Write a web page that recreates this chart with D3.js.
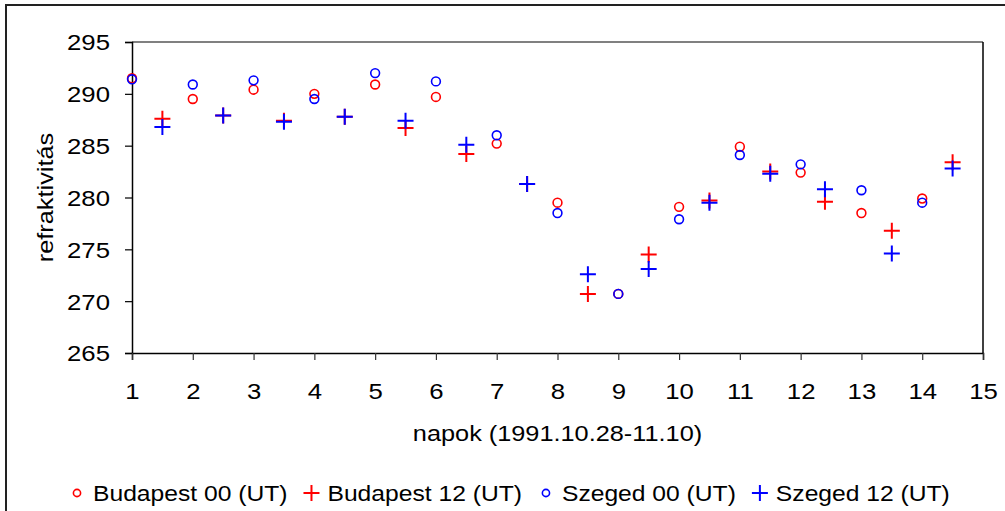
<!DOCTYPE html>
<html>
<head>
<meta charset="utf-8">
<script src="https://cdn.jsdelivr.net/npm/d3@7"></script>
<style>
  html, body { margin: 0; padding: 0; background: #fff; }
  svg { display: block; }
  text { font-family: "Liberation Sans", Arial, sans-serif; fill: #000; }
</style>
</head>
<body>
<svg id="chart" width="1005" height="511"></svg>
<script>
// ---- data ----
const days = [1, 2, 3, 4, 5, 6, 7, 8, 9, 10, 11, 12, 13, 14];
const halfDays = [1.5, 2.5, 3.5, 4.5, 5.5, 6.5, 7.5, 8.5, 9.5, 10.5, 11.5, 12.4, 13.5, 14.5];
const budapest00 = [291.5, 289.5, 290.4, 290.0, 290.9, 289.7, 285.2, 279.5, 270.7, 279.1, 284.9, 282.4, 278.5, 279.9];
const budapest12 = [287.6, 287.9, 287.4, 287.8, 286.7, 284.2, 281.3, 270.7, 274.5, 279.7, 282.5, 279.6, 276.8, 283.4];
const szeged00 = [291.4, 290.9, 291.3, 289.5, 292.0, 291.2, 286.0, 278.5, 270.7, 277.9, 284.1, 283.2, 280.7, 279.5];
const szeged12 = [286.8, 287.9, 287.3, 287.8, 287.4, 285.1, 281.3, 272.6, 273.1, 279.5, 282.3, 280.8, 274.6, 282.8];
const seriesNames = ["Budapest 00 (UT)", "Budapest 12 (UT)", "Szeged 00 (UT)", "Szeged 12 (UT)"];
const xTicks = [1, 2, 3, 4, 5, 6, 7, 8, 9, 10, 11, 12, 13, 14, 15];
const yTicks = [265, 270, 275, 280, 285, 290, 295];
const xTitle = "napok (1991.10.28-11.10)";
const yTitle = "refraktivitás";

const series = [
  { name: seriesNames[0], xs: days, ys: budapest00, shape: "circle", color: "#FF0000" },
  { name: seriesNames[1], xs: halfDays, ys: budapest12, shape: "plus", color: "#FF0000" },
  { name: seriesNames[2], xs: days, ys: szeged00, shape: "circle", color: "#0000FF" },
  { name: seriesNames[3], xs: halfDays, ys: szeged12, shape: "plus", color: "#0000FF" }
];

// ---- layout ----
const svg = d3.select("#chart");
const L = 132, R = 983, T = 42, B = 353;
const x = d3.scaleLinear().domain([1, 15]).range([L, R]);
const y = d3.scaleLinear().domain([265, 295]).range([B, T]);
const FS = 22;

function stretch(sel, f) {
  sel.each(function () {
    const l = this.getComputedTextLength();
    d3.select(this).attr("textLength", l * f).attr("lengthAdjust", "spacingAndGlyphs");
  });
}

// outer frame
svg.append("path")
  .attr("d", "M6,511 L6,5 L1005,5")
  .attr("fill", "none").attr("stroke", "#222").attr("stroke-width", 2);

// plot area border (top grey, right black)
svg.append("line").attr("x1", L).attr("x2", R).attr("y1", T).attr("y2", T)
  .attr("stroke", "#808080").attr("stroke-width", 2);
svg.append("line").attr("x1", R).attr("x2", R).attr("y1", T).attr("y2", B)
  .attr("stroke", "#000").attr("stroke-width", 1.5);

// y axis
const gy = svg.append("g").attr("transform", `translate(${L},0)`)
  .call(d3.axisLeft(y).tickValues(yTicks).tickSize(7).tickPadding(0).tickFormat(d3.format("d")));
gy.select(".domain").attr("stroke", "#000").attr("stroke-width", 1.5);
gy.selectAll(".tick line").attr("stroke", "#000").attr("stroke-width", 1.2);
gy.selectAll(".tick text")
  .attr("x", -22).attr("dy", "0.36em")
  .style("font-family", '"Liberation Sans", Arial, sans-serif')
  .style("font-size", FS + "px").attr("fill", "#000");
stretch(gy.selectAll(".tick text"), 1.17);

// x axis
const gx = svg.append("g").attr("transform", `translate(0,${B})`)
  .call(d3.axisBottom(x).tickValues(xTicks).tickSize(7).tickPadding(0).tickFormat(d3.format("d")));
gx.select(".domain").attr("stroke", "#000").attr("stroke-width", 1.5);
gx.selectAll(".tick line").attr("stroke", "#333").attr("stroke-width", 1.2);
gx.selectAll(".tick text")
  .attr("y", 46).attr("dy", 0)
  .style("font-family", '"Liberation Sans", Arial, sans-serif')
  .style("font-size", FS + "px").attr("fill", "#000");
stretch(gx.selectAll(".tick text"), 1.17);

// axis titles
const xt = svg.append("text")
  .attr("x", (L + R) / 2).attr("y", 441)
  .attr("text-anchor", "middle").style("font-size", FS + "px")
  .text(xTitle);
stretch(xt, 1.15);

const yt = svg.append("text")
  .attr("transform", `translate(53,${(T + B) / 2}) rotate(-90)`)
  .attr("text-anchor", "middle").style("font-size", FS + "px")
  .text(yTitle);
stretch(yt, 1.15);

// markers
function drawMarker(g, shape, color, cx, cy, legend) {
  if (shape === "circle") {
    g.append("circle").attr("cx", cx).attr("cy", cy)
      .attr("r", legend ? 3.6 : 4.4)
      .attr("fill", "none").attr("stroke", color).attr("stroke-width", 1.6);
  } else {
    const h = 8;
    g.append("path")
      .attr("d", `M${cx - h},${cy}H${cx + h}M${cx},${cy - h}V${cy + h}`)
      .attr("fill", "none").attr("stroke", color).attr("stroke-width", 2);
  }
}

const gm = svg.append("g");
series.forEach(s => {
  const g = gm.append("g");
  s.ys.forEach((v, i) => drawMarker(g, s.shape, s.color, x(s.xs[i]), y(v), false));
});

// legend
const gl = svg.append("g");
let lx = 77;
const ly = 493;
series.forEach(s => {
  drawMarker(gl, s.shape, s.color, lx, ly, true);
  const t = gl.append("text").attr("x", lx + 16).attr("y", 501)
    .style("font-size", FS + "px").text(s.name);
  stretch(t, 1.12);
  const w = +t.attr("textLength");
  lx = lx + 16 + w + 24;
});
</script>
</body>
</html>
